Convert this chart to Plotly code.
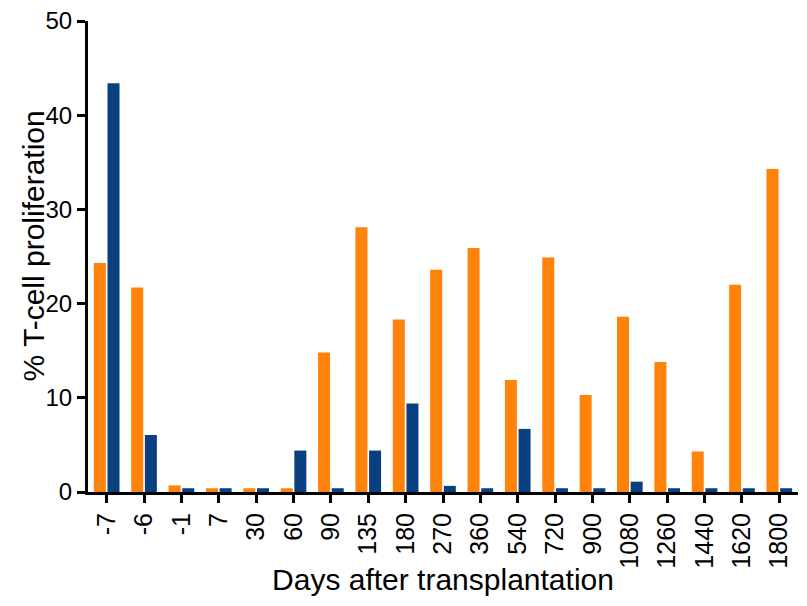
import plotly.graph_objects as go

days = ["-7", "-6", "-1", "7", "30", "60", "90", "135", "180", "270",
        "360", "540", "720", "900", "1080", "1260", "1440", "1620", "1800"]
orange_vals = [24.3, 21.7, 0.7, 0.4, 0.4, 0.4, 14.8, 28.1, 18.3, 23.6,
               25.9, 11.9, 24.9, 10.3, 18.6, 13.8, 4.3, 22.0, 34.3]
blue_vals = [43.4, 6.05, 0.4, 0.4, 0.4, 4.4, 0.4, 4.4, 9.4, 0.65,
             0.4, 6.7, 0.4, 0.4, 1.1, 0.4, 0.4, 0.4, 0.4]
y_ticks = [0, 10, 20, 30, 40, 50]

FONT = "Liberation Sans, Arial, Helvetica, sans-serif"

fig = go.Figure()
fig.add_trace(go.Bar(x=days, y=orange_vals, marker=dict(color="#FF820A", line=dict(width=0)),
                     showlegend=False))
fig.add_trace(go.Bar(x=days, y=blue_vals, marker=dict(color="#0A3F80", line=dict(width=0)),
                     showlegend=False))

# page body has an 8px default margin, so the figure is sized 8px smaller
fig.update_layout(
    width=799, height=598,
    margin=dict(l=80, r=9, t=13, b=114),
    paper_bgcolor="white", plot_bgcolor="white",
    barmode="group", bargap=0.27, bargroupgap=0.12,
    font=dict(family=FONT, color="black"),
    xaxis=dict(
        type="category", tickangle=-90, automargin=False,
        showline=True, linecolor="black", linewidth=3,
        ticks="outside", ticklen=8, tickwidth=3, tickcolor="black",
        tickfont=dict(size=25, family=FONT),
        showgrid=False, zeroline=False,
        title=dict(text="Days after transplantation", font=dict(size=30, family=FONT), standoff=2),
    ),
    yaxis=dict(
        range=[0, 50], tickvals=y_ticks, automargin=False,
        ticklabeloverflow="allow",
        showline=True, linecolor="black", linewidth=3,
        ticks="outside", ticklen=8, tickwidth=3, tickcolor="black",
        tickfont=dict(size=24, family=FONT),
        showgrid=False, zeroline=False,
    ),
    annotations=[dict(
        text="% T-cell proliferation", textangle=-90,
        xref="paper", yref="paper", x=0, y=0.5,
        xanchor="center", yanchor="middle", xshift=-55, yshift=10,
        showarrow=False, font=dict(size=30, family=FONT, color="black"),
    )],
)

fig.write_html("out.html")
